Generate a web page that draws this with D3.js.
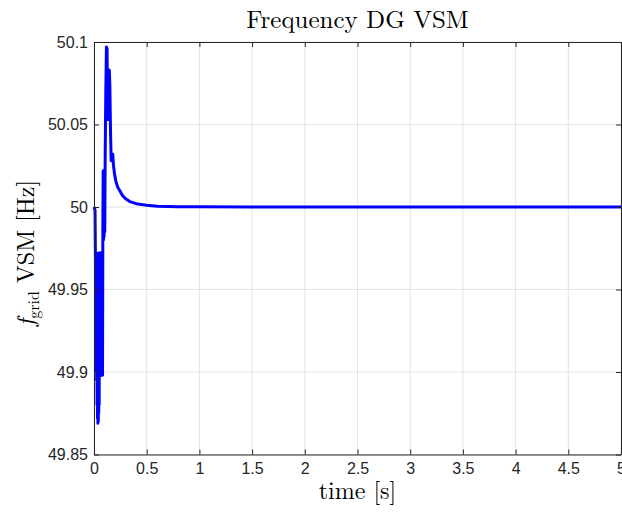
<!DOCTYPE html>
<html>
<head>
<meta charset="utf-8">
<script src="https://cdn.jsdelivr.net/npm/d3@7"></script>
<style>
  html, body { margin: 0; padding: 0; background: #fff; }
  svg { display: block; }
</style>
</head>
<body>
<svg id="chart" width="622" height="513"></svg>
<script>
// Simulated grid frequency seen by the VSM-controlled DG
const timeS = [
  0, 0.010, 0.015, 0.019, 0.021, 0.023, 0.025, 0.027, 0.029, 0.031,
  0.033, 0.035, 0.037, 0.039, 0.041, 0.043, 0.045, 0.047, 0.049, 0.051,
  0.053, 0.055, 0.057, 0.059, 0.061, 0.063, 0.065, 0.067, 0.069, 0.071,
  0.073, 0.075, 0.077, 0.079, 0.081, 0.084, 0.087,
  0.090, 0.093, 0.096, 0.099, 0.102, 0.106, 0.112, 0.118, 0.124, 0.128,
  0.133, 0.138, 0.145, 0.150, 0.157, 0.163, 0.170, 0.178, 0.185, 0.195,
  0.206, 0.225, 0.244, 0.270, 0.300, 0.340, 0.400, 0.500, 0.600, 0.800,
  1.0, 1.5, 5.0
];
const freqHz = [
  50.000, 49.998, 49.960, 49.972, 49.900, 49.972, 49.895, 49.972, 49.880, 49.970,
  49.872, 49.970, 49.869, 49.970, 49.870, 49.972, 49.875, 49.972, 49.880, 49.972,
  49.898, 49.972, 49.898, 49.972, 49.898, 49.972, 49.898, 49.972, 49.898, 49.972,
  49.898, 49.972, 49.898, 49.972, 49.898, 49.985, 50.022,
  49.980, 50.020, 49.982, 50.021, 49.985, 50.030, 50.070, 50.097, 50.096, 50.060,
  50.053, 50.070, 50.083, 50.075, 50.045, 50.028, 50.030, 50.032, 50.025, 50.020,
  50.016, 50.012, 50.010, 50.007, 50.005, 50.0033, 50.002, 50.001, 50.0005, 50.0002,
  50.0001, 50.0, 50.0
];
const xTicks = [0, 0.5, 1, 1.5, 2, 2.5, 3, 3.5, 4, 4.5, 5];
const yTicks = [49.85, 49.9, 49.95, 50, 50.05, 50.1];
const xTickLabels = ["0", "0.5", "1", "1.5", "2", "2.5", "3", "3.5", "4", "4.5", "5"];
const yTickLabels = ["49.85", "49.9", "49.95", "50", "50.05", "50.1"];

const svg = d3.select("#chart");
const plot = { left: 94, right: 621, top: 42, bottom: 454.5 };

const x = d3.scaleLinear().domain([0, 5]).range([plot.left, plot.right]);
const y = d3.scaleLinear().domain([49.85, 50.1]).range([plot.bottom, plot.top]);

const serif = "'Latin Modern Roman', 'CMU Serif', 'Liberation Serif', 'Times New Roman', serif";
const sans = "'Liberation Sans', Arial, Helvetica, sans-serif";
const axisColor = "#262626";

// grid
const grid = svg.append("g");
grid.selectAll("line.gx").data(xTicks).join("line")
  .attr("x1", d => x(d)).attr("x2", d => x(d))
  .attr("y1", plot.top).attr("y2", plot.bottom)
  .attr("stroke", "#e3e3e3").attr("stroke-width", 1);
grid.selectAll("line.gy").data(yTicks).join("line")
  .attr("x1", plot.left).attr("x2", plot.right)
  .attr("y1", d => y(d)).attr("y2", d => y(d))
  .attr("stroke", "#e3e3e3").attr("stroke-width", 1);

// axes (ticks point inward)
const tickLen = 5;
const xAxis = d3.axisBottom(x).tickValues(xTicks).tickSizeInner(-tickLen).tickSizeOuter(0)
  .tickPadding(8).tickFormat((d, i) => xTickLabels[i]);
const yAxis = d3.axisLeft(y).tickValues(yTicks).tickSizeInner(-tickLen).tickSizeOuter(0)
  .tickPadding(6).tickFormat((d, i) => yTickLabels[i]);
const xTop = d3.axisTop(x).tickValues(xTicks).tickSizeInner(-tickLen).tickSizeOuter(0).tickFormat("");
const yRight = d3.axisRight(y).tickValues(yTicks).tickSizeInner(-tickLen).tickSizeOuter(0).tickFormat("");

function styleAxis(g) {
  g.select(".domain").attr("stroke", axisColor).attr("stroke-width", 1);
  g.selectAll(".tick line").attr("stroke", axisColor).attr("stroke-width", 1);
  g.selectAll(".tick text").attr("fill", axisColor).style("font-family", sans).style("font-size", "16px");
}

// data line
svg.append("path")
  .datum(timeS.map((t, i) => [t, freqHz[i]]))
  .attr("fill", "none")
  .attr("stroke", "#0000ff")
  .attr("stroke-width", 3)
  .attr("stroke-linejoin", "round")
  .attr("d", d3.line().x(d => x(d[0])).y(d => y(d[1])));

svg.append("g").attr("transform", `translate(0,${plot.bottom})`).call(xAxis).call(styleAxis);
svg.append("g").attr("transform", `translate(${plot.left},0)`).call(yAxis).call(styleAxis);
svg.append("g").attr("transform", `translate(0,${plot.top})`).call(xTop).call(styleAxis);
svg.append("g").attr("transform", `translate(${plot.right},0)`).call(yRight).call(styleAxis);

// title
svg.append("text")
  .attr("x", (plot.left + plot.right) / 2).attr("y", 27.5)
  .attr("text-anchor", "middle")
  .style("font-family", serif).style("font-size", "25px").attr("fill", "#000")
  .text("Frequency DG VSM");

// x label
svg.append("text")
  .attr("x", (plot.left + plot.right) / 2).attr("y", 499)
  .attr("text-anchor", "middle")
  .style("font-family", serif).style("font-size", "24px").attr("fill", "#000")
  .text("time [s]");

// y label with subscript
const yl = svg.append("text")
  .attr("transform", `translate(34,253) rotate(-90)`)
  .attr("text-anchor", "middle")
  .style("font-family", serif).style("font-size", "24px").attr("fill", "#000");
yl.append("tspan").style("font-style", "italic").text("f");
yl.append("tspan").attr("dy", 5).style("font-size", "16px").text("grid");
yl.append("tspan").attr("dy", -5).text(" VSM [Hz]");
</script>
</body>
</html>
